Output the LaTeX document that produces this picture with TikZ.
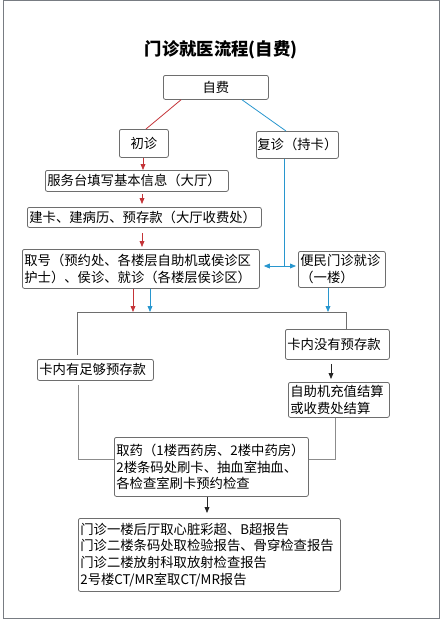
\documentclass[tikz,border=0pt]{standalone}
\usepackage{fontspec}
\setmainfont{Noto Sans CJK SC}
\usetikzlibrary{arrows.meta,calc}

\definecolor{framegray}{RGB}{120,124,130}
\definecolor{boxgray}{RGB}{110,110,110}
\definecolor{linegray}{RGB}{140,140,140}
\definecolor{flowred}{RGB}{196,52,56}
\definecolor{flowblue}{RGB}{40,150,206}

\tikzset{every picture/.style={line width=0.75pt}}
\tikzset{
  flowbox/.style={draw=boxgray, line width=0.6pt, rounded corners=1.5pt, fill=white, inner xsep=1.5pt, inner ysep=0pt, anchor=north west, align=left, font=\fontsize{10}{12.6}\selectfont},
  midbox/.style={flowbox, align=center},
  redline/.style={draw=flowred, line width=0.6pt},
  blueline/.style={draw=flowblue, line width=0.6pt},
  grayline/.style={draw=linegray, line width=0.75pt},
  darkline/.style={draw=boxgray, line width=0.6pt},
  blackline/.style={draw=black!85, line width=0.6pt},
  tip/.style={-{Triangle[length=4.5pt,width=3.6pt]}},
  twotip/.style={{Triangle[length=4.5pt,width=3.6pt]}-{Triangle[length=4.5pt,width=3.6pt]}}
}

\begin{document}
\begin{tikzpicture}[x=0.75pt,y=0.75pt,yscale=-1,xscale=1]
\useasboundingbox (0,0) rectangle (443,621);

%Frame
\draw [draw=framegray, line width=0.8pt] (3.5,0.5) rectangle (439.5,618.5);

% Title
\node (title) at (221,50) [font=\fontsize{13}{15}\selectfont\bfseries] {门诊就医流程(自费)};

% Text Node
\node (zifei) at (163,75) [midbox, minimum width=78.75pt, minimum height=18pt] {自费};
% Text Node
\node (chuzhen) at (119,129) [midbox, minimum width=36.75pt, minimum height=21pt] {初诊};
% Text Node
\node (fuzhen) at (256,131) [midbox, inner xsep=0pt, minimum width=61.5pt, minimum height=20.25pt] {复诊（持卡）};
% Text Node
\node (fuwu) at (45,170) [flowbox, text width=134.25pt, minimum height=15.75pt] {服务台填写基本信息（大厅）};
% Text Node
\node (jianka) at (27,207) [flowbox, text width=172.5pt, minimum height=15pt] {建卡、建病历、预存款（大厅收费处）};
% Text Node
\node (quhao) at (22,249) [flowbox, text width=174.75pt, minimum height=29.25pt] {取号（预约处、各楼层自助机或侯诊区\\护士）、侯诊、就诊（各楼层侯诊区）};
% Text Node
\node (bianmin) at (298,251) [flowbox, text width=62.25pt, minimum height=27pt] {便民门诊就诊\\（一楼）};
% Text Node
\node (meiyou) at (285,329) [flowbox, text width=75pt, minimum height=22.5pt] {卡内没有预存款};
% Text Node
\node (zugou) at (37,359) [flowbox, text width=84pt, minimum height=15.75pt] {卡内有足够预存款};
% Text Node
\node (zizhu) at (288,382) [flowbox, text width=72.75pt, minimum height=26.25pt] {自助机充值结算\\或收费处结算};
% Text Node
\node (quyao) at (114,437) [flowbox, text width=142.5pt, minimum height=44.25pt] {取药（1楼西药房、2楼中药房）\\2楼条码处刷卡、抽血室抽血、\\各检查室刷卡预约检查};
% Text Node
\node (baogao) at (78,518) [flowbox, text width=193.5pt, minimum height=54.75pt] {门诊一楼后厅取心脏彩超、B超报告\\门诊二楼条码处取检验报告、骨穿检查报告\\门诊二楼放射科取放射检查报告\\2号楼CT/MR室取CT/MR报告};

%Branch Points
\coordinate (split) at (77,312);
\coordinate (join) at (346,312);
\coordinate (swap) at (284,266);
\coordinate (leftfoot) at (78,459);
\coordinate (rightfoot) at (335,459);
\coordinate (redfoot) at ($(quhao.south west)+(111,0)$);
\coordinate (bluefoot) at ($(quhao.south west)+(128,0)$);
\coordinate (bianfoot) at ($(bianmin.south west)+(30,0)$);

%Straight Lines
\draw [redline] ($(zifei.south west)+(18,0)$) -- ($(chuzhen.north west)+(27,0)$);
%Straight Lines
\draw [blueline] ($(zifei.south west)+(79,0)$) -- ($(fuzhen.north west)+(30,0)$);
%Straight Lines
\draw [redline, tip] ($(chuzhen.south west)+(24,0)$) -- ($(fuwu.north west)+(98,0)$);
%Straight Lines
\draw [redline, tip, shorten <=2pt] ($(fuwu.south west)+(97,0)$) -- ($(jianka.north west)+(115,-3)$);
%Straight Lines
\draw [redline, tip, shorten <=4pt] ($(jianka.south west)+(115,0)$) -- ($(quhao.north west)+(120,-2)$);
%Straight Lines
\draw [blueline] ($(fuzhen.south west)+(28,0)$) -- (swap);
%Straight Lines
\draw [blueline, twotip] ($(quhao.east |- swap)+(4,0)$) -- ($(bianmin.west |- swap)+(-2,0)$);
%Straight Lines
\draw [redline, tip] (redfoot) -- (redfoot |- split);
%Straight Lines
\draw [blueline, tip] (bluefoot) -- (bluefoot |- split);
%Straight Lines
\draw [blueline, tip] (bianfoot) -- (bianfoot |- split);
%Straight Lines
\draw [darkline] ($(split)+(0,43)$) -- (split) -- (join) -- (join |- meiyou.north);
%Straight Lines
\draw [blackline, tip, shorten <=3pt] ($(meiyou.south west)+(46,0)$) -- ($(zizhu.north west)+(43,-3)$);
%Straight Lines
\draw [grayline, shorten <=3pt] (zugou.south -| leftfoot) -- (leftfoot) -- (quyao.west |- leftfoot);
%Straight Lines
\draw [grayline] (zizhu.south -| rightfoot) -- (rightfoot) -- (quyao.east |- rightfoot);
%Straight Lines
\draw [blackline, tip] ($(quyao.south west)+(93,0)$) -- ($(baogao.north west)+(129,-5)$);

\end{tikzpicture}
\end{document}
